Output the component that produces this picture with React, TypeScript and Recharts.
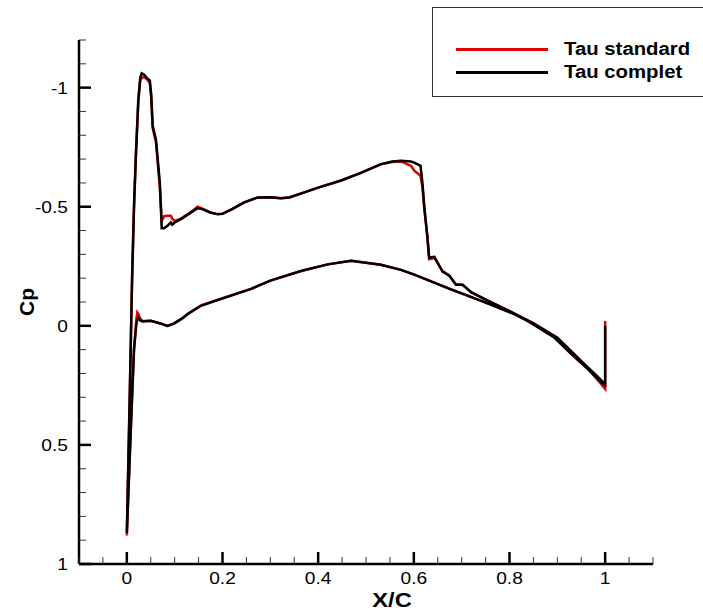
import React from "react";
import { LineChart, Line, XAxis, YAxis } from "recharts";

// chordwise stations, leading edge -> trailing edge
const upperX = [0, 0.006, 0.011, 0.015, 0.019, 0.024, 0.028, 0.031, 0.036, 0.042, 0.048, 0.051, 0.054, 0.061, 0.069, 0.073, 0.078, 0.085, 0.092, 0.095, 0.1, 0.113, 0.13, 0.148, 0.158, 0.175, 0.19, 0.2, 0.22, 0.245, 0.273, 0.3, 0.322, 0.34, 0.364, 0.4, 0.448, 0.49, 0.531, 0.555, 0.573, 0.594, 0.601, 0.614, 0.618, 0.622, 0.628, 0.632, 0.643, 0.66, 0.674, 0.688, 0.702, 0.72, 0.741, 0.76, 0.8, 0.85, 0.9, 0.95, 0.98, 1.0];
const upperComplet = [0.87, 0.3, -0.2, -0.5, -0.72, -0.95, -1.04, -1.06, -1.055, -1.04, -1.03, -0.97, -0.84, -0.78, -0.6, -0.41, -0.41, -0.42, -0.434, -0.425, -0.434, -0.448, -0.47, -0.494, -0.49, -0.475, -0.469, -0.47, -0.49, -0.518, -0.539, -0.54, -0.536, -0.539, -0.555, -0.58, -0.61, -0.643, -0.679, -0.69, -0.693, -0.69, -0.685, -0.672, -0.6, -0.497, -0.38, -0.287, -0.29, -0.228, -0.21, -0.172, -0.172, -0.14, -0.119, -0.1, -0.062, -0.01, 0.05, 0.148, 0.205, 0.245];
const upperStandard = [0.88, 0.3, -0.2, -0.5, -0.72, -0.94, -1.03, -1.04, -1.045, -1.035, -1.02, -0.96, -0.83, -0.77, -0.58, -0.44, -0.46, -0.462, -0.462, -0.45, -0.44, -0.45, -0.472, -0.5, -0.492, -0.476, -0.468, -0.47, -0.49, -0.517, -0.538, -0.54, -0.536, -0.54, -0.556, -0.58, -0.61, -0.642, -0.678, -0.688, -0.69, -0.672, -0.651, -0.63, -0.58, -0.49, -0.38, -0.28, -0.285, -0.23, -0.212, -0.175, -0.172, -0.142, -0.12, -0.1, -0.062, -0.01, 0.05, 0.148, 0.21, 0.25];

const lowerX = [0, 0.008, 0.015, 0.02, 0.022, 0.024, 0.028, 0.033, 0.05, 0.07, 0.085, 0.099, 0.115, 0.127, 0.155, 0.19, 0.259, 0.3, 0.364, 0.42, 0.469, 0.531, 0.573, 0.601, 0.671, 0.741, 0.81, 0.838, 0.894, 0.929, 0.964, 0.992, 1.0, 1.0];
const lowerComplet = [0.87, 0.45, 0.1, -0.01, -0.025, -0.035, -0.022, -0.018, -0.021, -0.01, 0, -0.01, -0.03, -0.049, -0.084, -0.108, -0.154, -0.19, -0.23, -0.258, -0.273, -0.256, -0.235, -0.215, -0.158, -0.105, -0.049, -0.021, 0.049, 0.118, 0.182, 0.238, 0.248, 0.0];
const lowerStandard = [0.88, 0.45, 0.1, -0.03, -0.056, -0.05, -0.03, -0.02, -0.021, -0.01, 0, -0.01, -0.03, -0.05, -0.086, -0.11, -0.155, -0.19, -0.23, -0.258, -0.273, -0.256, -0.235, -0.215, -0.158, -0.105, -0.05, -0.021, 0.049, 0.118, 0.18, 0.245, 0.265, -0.02];

const xTicks = [-0.1, -0.05, 0, 0.05, 0.1, 0.15, 0.2, 0.25, 0.3, 0.35, 0.4, 0.45, 0.5, 0.55, 0.6, 0.65, 0.7, 0.75, 0.8, 0.85, 0.9, 0.95, 1, 1.05, 1.1];
const yTicks = [-1.2, -1.1, -1, -0.9, -0.8, -0.7, -0.6, -0.5, -0.4, -0.3, -0.2, -0.1, 0, 0.1, 0.2, 0.3, 0.4, 0.5, 0.6, 0.7, 0.8, 0.9, 1];

const FONT = "'Liberation Sans', Arial, sans-serif";
const STRETCH = 1.13; // the reference text is a little wide

// one closed loop per series: upper surface TE -> LE, then lower LE -> TE
function loop(upper: number[], lower: number[]) {
  const pts: { x: number; cp: number }[] = [];
  for (let i = upperX.length - 1; i >= 0; i--) pts.push({ x: upperX[i], cp: upper[i] });
  for (let i = 0; i < lowerX.length; i++) pts.push({ x: lowerX[i], cp: lower[i] });
  return pts;
}

const isMajor = (v: number, step: number) => Math.abs(v / step - Math.round(v / step)) < 1e-6;
const fmt = (v: number) => String(Number(v.toFixed(2)));

const WideText = ({ x, y, anchor, size, bold, children }: any) => (
  <text
    transform={`translate(${x} ${y}) scale(${STRETCH} 1)`}
    textAnchor={anchor}
    fontSize={size}
    fontWeight={bold ? "bold" : "normal"}
    fontFamily={FONT}
    fill="#000"
  >
    {children}
  </text>
);

const XTick = (props: any) => {
  const { x, y, payload } = props;
  const major = isMajor(payload.value, 0.2);
  return (
    <g>
      <line x1={x} y1={y} x2={x} y2={y - (major ? 12 : 7)} stroke={major ? "#000" : "#333"} strokeWidth={major ? 2.5 : 1} />
      {major && (
        <WideText x={x} y={y + 20} anchor="middle" size={17}>
          {fmt(payload.value)}
        </WideText>
      )}
    </g>
  );
};

const YTick = (props: any) => {
  const { x, y, payload } = props;
  const major = isMajor(payload.value, 0.5);
  return (
    <g>
      <line x1={x} y1={y} x2={x + (major ? 12 : 7)} y2={y} stroke={major ? "#000" : "#333"} strokeWidth={major ? 2.5 : 1} />
      {major && (
        <WideText x={x - 11} y={y + 6} anchor="end" size={17}>
          {fmt(payload.value)}
        </WideText>
      )}
    </g>
  );
};

export default function App() {
  const std = loop(upperStandard, lowerStandard);
  const comp = loop(upperComplet, lowerComplet);
  return (
    <div style={{ position: "absolute", left: 0, top: 0, width: 703, height: 611, background: "#fff" }}>
      <LineChart width={703} height={611} margin={{ top: 40, right: 50, bottom: 0, left: 0 }}>
        <XAxis
          type="number"
          dataKey="x"
          domain={[-0.1, 1.1]}
          ticks={xTicks}
          interval={0}
          height={47}
          tickSize={0}
          tickMargin={0}
          tickLine={false}
          tick={<XTick />}
          axisLine={{ stroke: "#000", strokeWidth: 2.5 }}
          allowDataOverflow
          label={{
            content: () => (
              <WideText x={392} y={607} anchor="middle" size={21} bold>
                X/C
              </WideText>
            ),
          }}
        />
        <YAxis
          type="number"
          dataKey="cp"
          domain={[-1.2, 1]}
          reversed
          ticks={yTicks}
          interval={0}
          width={79}
          tickSize={0}
          tickMargin={0}
          tickLine={false}
          tick={<YTick />}
          axisLine={{ stroke: "#000", strokeWidth: 2.5 }}
          allowDataOverflow
          label={{
            content: () => (
              <text
                x={34}
                y={302}
                textAnchor="middle"
                transform="rotate(-90 34 302)"
                fontSize={21}
                fontWeight="bold"
                fontFamily={FONT}
                fill="#000"
              >
                Cp
              </text>
            ),
          }}
        />
        <Line data={std} dataKey="cp" type="linear" stroke="#e00000" strokeWidth={2.5} dot={false} isAnimationActive={false} />
        <Line data={comp} dataKey="cp" type="linear" stroke="#000" strokeWidth={2.5} dot={false} isAnimationActive={false} />
      </LineChart>
      <div
        style={{
          position: "absolute",
          left: 432,
          top: 7,
          width: 290,
          height: 88,
          border: "1px solid #333",
          background: "#fff",
          fontFamily: FONT,
          fontWeight: "bold",
          fontSize: 18,
        }}
      >
        {[
          { name: "Tau standard", color: "#e00000", top: 40 },
          { name: "Tau complet", color: "#000", top: 63 },
        ].map((s) => (
          <React.Fragment key={s.name}>
            <div style={{ position: "absolute", left: 23, top: s.top, width: 92, height: 3, background: s.color }} />
            <div
              style={{
                position: "absolute",
                left: 131,
                top: s.top - 10,
                lineHeight: "22px",
                whiteSpace: "nowrap",
                transform: `scaleX(${STRETCH})`,
                transformOrigin: "left center",
              }}
            >
              {s.name}
            </div>
          </React.Fragment>
        ))}
      </div>
    </div>
  );
}
